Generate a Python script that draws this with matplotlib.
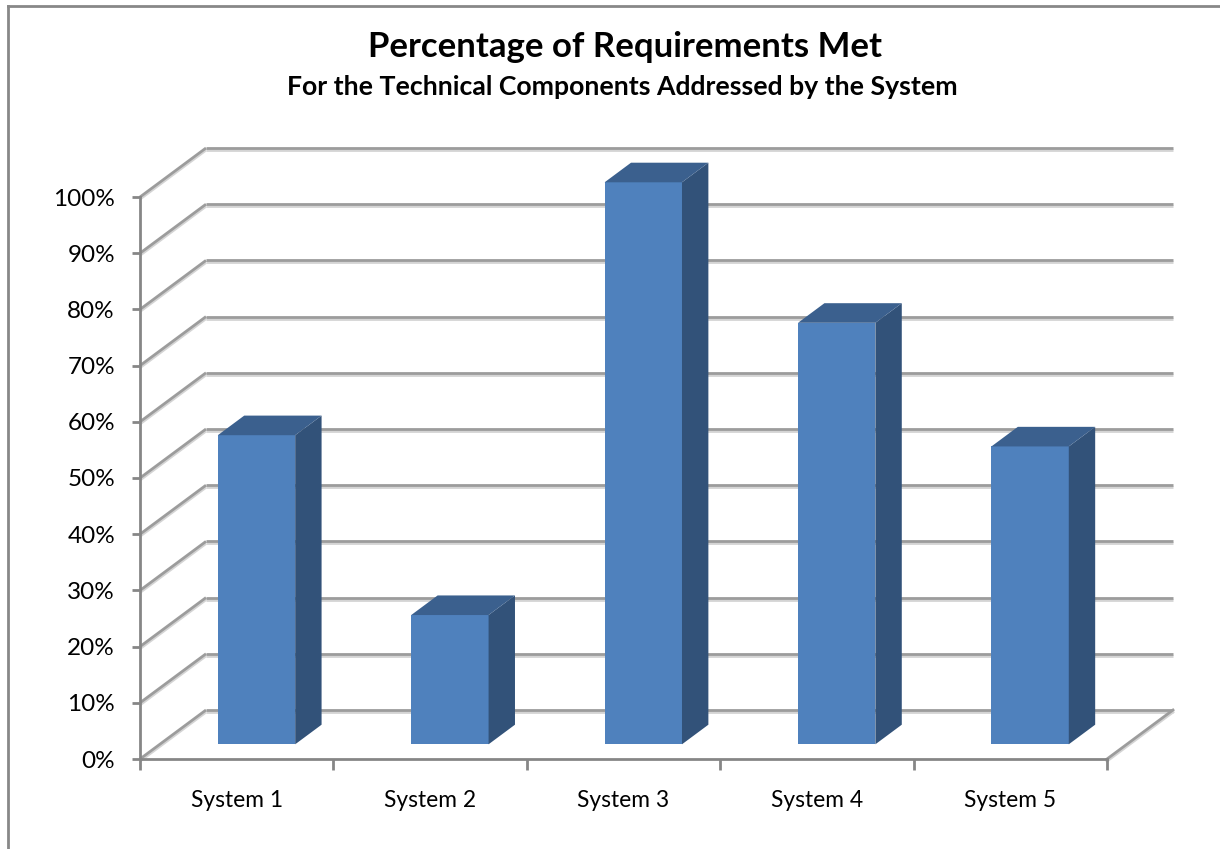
import matplotlib.pyplot as plt
import matplotlib.patheffects as pe
from matplotlib.patches import Polygon
from matplotlib.lines import Line2D

# chart data
categories = ['System 1', 'System 2', 'System 3', 'System 4', 'System 5']
pct_met = [55, 23, 100, 75, 53]
y_ticks = [0, 10, 20, 30, 40, 50, 60, 70, 80, 90, 100]
y_tick_labels = ['0%', '10%', '20%', '30%', '40%', '50%', '60%', '70%', '80%', '90%', '100%']
title = 'Percentage of Requirements Met'
subtitle = 'For the Technical Components Addressed by the System'

plt.rcParams['font.family'] = ['Lato', 'DejaVu Sans']

W, H = 1220, 849
fig = plt.figure(figsize=(W / 100, H / 100), dpi=100)

# geometry of the excel style 3d plot box, in pixels
X0, Y0 = 140, 759          # front left corner of the floor
SLOT = 193.4               # width of one category
PX_PCT = 5.62              # pixels per percent
DX = 66 / SLOT             # depth offset in category units
DY = 49 / PX_PCT           # depth offset in percent units
n = len(categories)

ax = fig.add_axes([X0 / W, (H - Y0) / H, (n + DX) * SLOT / W, (100 + DY) * PX_PCT / H])
ax.set_xlim(0, n + DX)
ax.set_ylim(0, 100 + DY)
ax.patch.set_visible(False)

GRID = '#9c9c9c'
AXC = '#868686'
FRONT = '#4f81bd'
SIDE = '#325279'
TOP = '#3b608e'

shadow = [pe.SimpleLineShadow(offset=(0, -1.5), shadow_color='#d4d4d4', alpha=1), pe.Normal()]

# back wall and side wall gridlines
for t in y_ticks:
    ax.plot([DX, n + DX], [t + DY, t + DY], color=GRID, lw=2, zorder=1,
            solid_capstyle='butt', path_effects=shadow, clip_on=False)
    ax.plot([0, DX], [t, t + DY], color=GRID, lw=2, zorder=1,
            solid_capstyle='butt', path_effects=shadow, clip_on=False)
# right edge of the floor
ax.plot([n, n + DX], [0, DY], color=GRID, lw=2, zorder=1, path_effects=shadow, clip_on=False)

# bars: front face through ax.bar, side and top faces as polygons
d0, d1 = 0.3, 0.7
bw = 0.4
x_front = [i + (1 - bw) / 2 + d0 * DX for i in range(n)]
ax.bar(x_front, pct_met, width=bw, bottom=d0 * DY, align='edge', color=FRONT, lw=0, zorder=3)
ddx = (d1 - d0) * DX
ddy = (d1 - d0) * DY
for xf, v in zip(x_front, pct_met):
    x1 = xf + bw
    b = d0 * DY
    top = v + b
    ax.add_patch(Polygon([(x1, b), (x1 + ddx, b + ddy), (x1 + ddx, top + ddy), (x1, top)],
                         closed=True, color=SIDE, lw=0, zorder=3))
    ax.add_patch(Polygon([(xf, top), (x1, top), (x1 + ddx, top + ddy), (xf + ddx, top + ddy)],
                         closed=True, color=TOP, lw=0, zorder=3))

# axes
for s in ['top', 'right']:
    ax.spines[s].set_visible(False)
ax.spines['left'].set_bounds(0, 100)
ax.spines['bottom'].set_bounds(0, n)
for s in ['left', 'bottom']:
    ax.spines[s].set_color(AXC)
    ax.spines[s].set_linewidth(2)
    ax.spines[s].set_zorder(2)

ax.set_yticks(y_ticks)
ax.set_yticklabels(y_tick_labels)
ax.tick_params(axis='y', length=6, width=2, color=AXC, pad=12, labelsize=17.5)

ax.set_xticks(range(n + 1))
ax.set_xticklabels([])
ax.set_xticks([i + 0.5 for i in range(n)], minor=True)
ax.set_xticklabels(categories, minor=True)
ax.tick_params(axis='x', which='major', length=8, width=2, color=AXC)
ax.tick_params(axis='x', which='minor', length=0, pad=22, labelsize=16.4)

# titles
fig.text(625 / W, 1 - 47 / H, title, ha='center', va='center', fontsize=25, fontweight='bold')
fig.text(622 / W, 1 - 87 / H, subtitle, ha='center', va='center', fontsize=19.2, fontweight='bold')

# chart border
fig.add_artist(Line2D([8 / W, 8 / W], [0, 1 - 6 / H], color='#888888', lw=2))
fig.add_artist(Line2D([8 / W, 1], [1 - 6 / H, 1 - 6 / H], color='#888888', lw=2))

fig.savefig('out.png', dpi=100)
